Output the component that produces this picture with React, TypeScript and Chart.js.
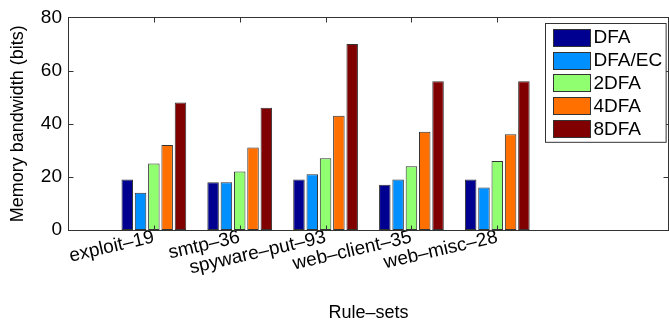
import { useEffect, useRef } from 'react';
import { Chart, registerables } from 'chart.js';

Chart.register(...registerables);

const categories = ['exploit–19', 'smtp–36', 'spyware–put–93', 'web–client–35', 'web–misc–28'];
const seriesNames = ['DFA', 'DFA/EC', '2DFA', '4DFA', '8DFA'];
const dfa = [19, 18, 19, 17, 19];
const dfaEc = [14, 18, 21, 19, 16];
const twoDfa = [25, 22, 27, 24, 26];
const fourDfa = [32, 31, 43, 37, 36];
const eightDfa = [48, 46, 70, 56, 56];
const seriesColors = ['#000090', '#0090ff', '#90ff70', '#ff7000', '#800000'];
const yTicks = [0, 20, 40, 60, 80];

const FONT = '"Liberation Sans", Arial, Helvetica, sans-serif';
const EDGE = '#333333';

// x positions 0..7, categories sit at 1..5
const xLabels = ['', ...categories, '', ''];
const pad = (arr: number[]) => [null, ...arr, null, null];

const framePlugin = {
  id: 'matlabFrame',
  afterDatasetsDraw(chart: any) {
    const { ctx, chartArea, scales } = chart;
    const l = Math.round(chartArea.left) + 0.5;
    const r = Math.round(chartArea.right) - 0.5;
    const t = Math.round(chartArea.top) + 0.5;
    const b = Math.round(chartArea.bottom) + 0.5;
    ctx.save();
    ctx.strokeStyle = EDGE;
    ctx.lineWidth = 1;
    ctx.strokeRect(l, t, r - l, b - t);
    ctx.beginPath();
    yTicks.forEach((v) => {
      const py = Math.round(scales.y.getPixelForValue(v)) + 0.5;
      ctx.moveTo(l, py); ctx.lineTo(l + 5, py);
      ctx.moveTo(r, py); ctx.lineTo(r - 5, py);
    });
    categories.forEach((_, i) => {
      const px = Math.round(scales.x.getPixelForValue(i + 1)) + 0.5;
      ctx.moveTo(px, t); ctx.lineTo(px, t + 5);
      ctx.moveTo(px, b); ctx.lineTo(px, b - 5);
    });
    ctx.stroke();
    ctx.restore();
  },
};

const legendPlugin = {
  id: 'boxLegend',
  afterDraw(chart: any) {
    const { ctx, chartArea } = chart;
    ctx.save();
    ctx.font = `19px ${FONT}`;
    const rowH = 22.9, sw = 37, sh = 17, padL = 7, gap = 4, padR = 4, padT = 13.6;
    const textW = Math.max(...seriesNames.map((n) => ctx.measureText(n).width));
    const w = padL + sw + gap + textW + padR;
    const h = (seriesNames.length - 1) * rowH + 2 * padT;
    const x0 = Math.round(chartArea.right - 3 - w) + 0.5;
    const y0 = Math.round(chartArea.top + 6) + 0.5;
    ctx.fillStyle = '#ffffff';
    ctx.fillRect(x0, y0, w, h);
    ctx.strokeStyle = EDGE;
    ctx.lineWidth = 1;
    ctx.strokeRect(x0, y0, w, h);
    seriesNames.forEach((name, i) => {
      const cy = y0 + padT + i * rowH;
      const sx = Math.round(x0 + padL) + 0.5;
      const sy = Math.round(cy - sh / 2) + 0.5;
      ctx.fillStyle = chart.data.datasets[i].backgroundColor;
      ctx.fillRect(sx, sy, sw, sh);
      ctx.strokeStyle = EDGE;
      ctx.strokeRect(sx, sy, sw, sh);
      ctx.fillStyle = '#000000';
      ctx.textBaseline = 'middle';
      ctx.textAlign = 'left';
      ctx.fillText(name, x0 + padL + sw + gap, cy + 1);
    });
    ctx.restore();
  },
};

export default function App() {
  const ref = useRef<HTMLCanvasElement | null>(null);

  useEffect(() => {
    if (!ref.current) return;
    const values = [dfa, dfaEc, twoDfa, fourDfa, eightDfa];
    const chart = new Chart(ref.current, {
      type: 'bar',
      data: {
        labels: xLabels,
        datasets: seriesNames.map((name, i) => ({
          label: name,
          data: pad(values[i]),
          backgroundColor: seriesColors[i],
          borderColor: EDGE,
          borderWidth: 1,
          borderSkipped: false,
          categoryPercentage: 0.775,
          barPercentage: 0.865,
        })),
      },
      options: {
        animation: false,
        responsive: false,
        devicePixelRatio: 1,
        layout: { padding: { top: 17, right: 0, left: 0, bottom: 0 } },
        plugins: { legend: { display: false }, tooltip: { enabled: false } },
        scales: {
          x: {
            type: 'category',
            offset: false,
            grid: { display: false, drawTicks: false },
            border: { display: false },
            ticks: {
              autoSkip: false,
              minRotation: 13,
              maxRotation: 13,
              padding: -4,
              color: '#000',
              font: { family: FONT, size: 19 },
            },
            title: {
              display: true,
              text: 'Rule–sets',
              color: '#000',
              font: { family: FONT, size: 18 },
              padding: { top: 0, bottom: 1 },
            },
            afterFit(s: any) {
              s.height = 95;
              s.paddingLeft = 0;
              s.paddingRight = 0;
            },
          },
          y: {
            min: 0,
            max: 80,
            grid: { display: false, drawTicks: false },
            border: { display: false },
            ticks: {
              stepSize: 20,
              padding: 6,
              color: '#000',
              font: { family: FONT, size: 19 },
            },
            title: {
              display: true,
              text: 'Memory bandwidth (bits)',
              color: '#000',
              font: { family: FONT, size: 18 },
              padding: { top: 7, bottom: 0 },
            },
            afterFit(s: any) {
              s.width = 68;
            },
          },
        },
      },
      plugins: [framePlugin, legendPlugin],
    });
    return () => chart.destroy();
  }, []);

  return (
    <div style={{ position: 'absolute', left: 0, top: 0, width: 669, height: 325, background: '#fff' }}>
      <canvas ref={ref} width={669} height={325} />
    </div>
  );
}
